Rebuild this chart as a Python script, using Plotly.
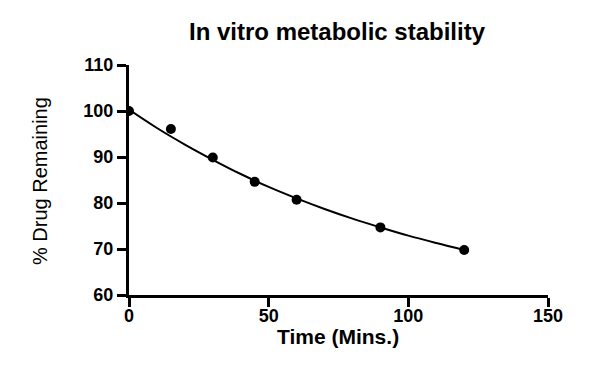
import plotly.graph_objects as go

# Measured data points
time_min = [0, 15, 30, 45, 60, 90, 120]
pct_remaining = [100.0, 96.1, 89.9, 84.6, 80.7, 74.7, 69.8]

# Fitted curve
curve_x = [0, 10, 20, 30, 40, 50, 60, 70, 80, 90, 100, 110, 120]
curve_y = [100.3, 96.3, 92.7, 89.4, 86.3, 83.5, 81.0, 78.7, 76.6, 74.7, 72.9, 71.3, 69.8]

x_ticks = [0, 50, 100, 150]
y_ticks = [60, 70, 80, 90, 100, 110]

FONT = "Liberation Sans, Arial, sans-serif"

fig = go.Figure()
fig.add_trace(go.Scatter(x=curve_x, y=curve_y, mode="lines",
                         line=dict(color="black", width=2, shape="spline"),
                         hoverinfo="skip", showlegend=False))
fig.add_trace(go.Scatter(x=time_min, y=pct_remaining, mode="markers",
                         marker=dict(color="black", size=10),
                         showlegend=False))

axis_common = dict(showgrid=False, zeroline=False, showline=True, linecolor="black",
                   linewidth=3, ticks="outside", ticklen=9, tickwidth=3, tickcolor="black",
                   tickfont=dict(family=FONT, size=18, color="black", weight="bold"))

fig.update_xaxes(range=[0, 150], tickvals=x_ticks, ticklabelstandoff=-7, **axis_common)
fig.update_yaxes(range=[60, 110], tickvals=y_ticks, **axis_common)

fig.update_layout(
    width=614, height=367,
    margin=dict(l=129, r=66, t=65, b=72),
    paper_bgcolor="white", plot_bgcolor="white",
    title=dict(text="In vitro metabolic stability", x=337/614, xanchor="center",
               y=1-32/367, yanchor="middle", xref="container", yref="container",
               font=dict(family=FONT, size=24, color="black", weight="bold")),
    annotations=[
        dict(text="Time (Mins.)", xref="paper", yref="paper", x=0.4988, y=-0.1826,
             xanchor="center", yanchor="middle", showarrow=False,
             font=dict(family=FONT, size=21, color="black", weight="bold")),
        dict(text="% Drug Remaining", xref="paper", yref="paper", x=-0.2124, y=0.4957,
             xanchor="center", yanchor="middle", showarrow=False, textangle=-90,
             font=dict(family=FONT, size=20, color="black")),
    ],
)

fig.write_html("out.html", config={"displayModeBar": False},
               post_script="document.body.style.margin='0';document.body.style.padding='0';")
